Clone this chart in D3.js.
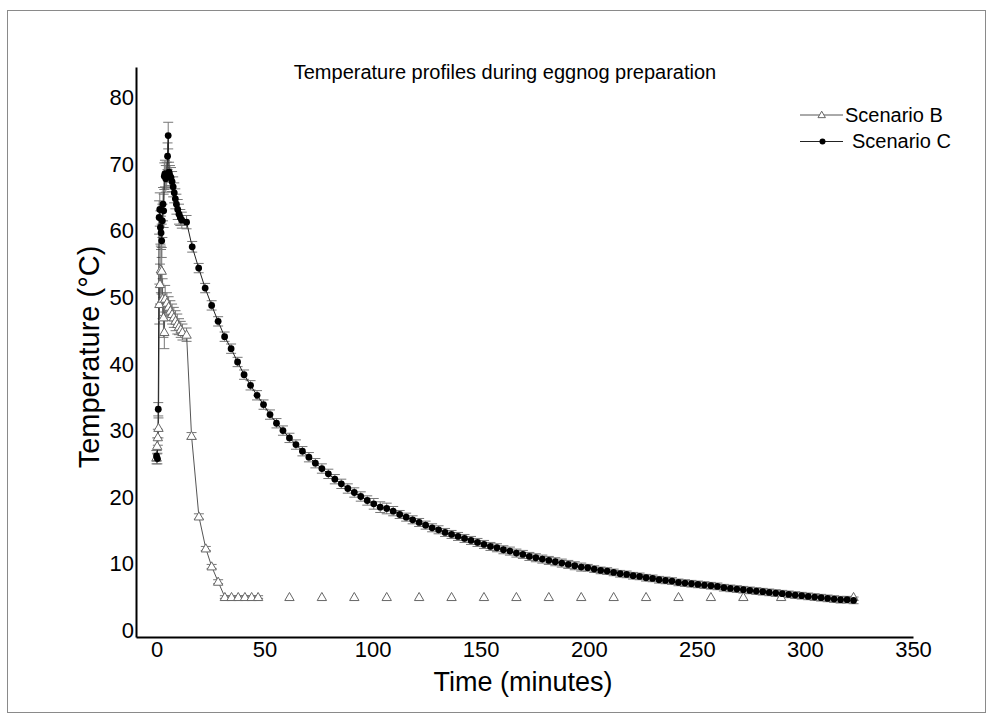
<!DOCTYPE html>
<html>
<head>
<meta charset="utf-8">
<script src="https://cdn.jsdelivr.net/npm/d3@7"></script>
<style>
body{margin:0;background:#fff;}
svg text{font-family:"Liberation Sans",Arial,sans-serif;fill:#000;}
</style>
</head>
<body>
<svg width="993" height="720"></svg>
<script>
// time points (minutes) and temperatures
var timeB = [0.0,0.3,0.6,0.9,1.3,1.6,2.0,2.4,2.8,3.2,3.6,4.0,4.8,5.6,6.4,7.2,8.0,8.8,9.6,10.4,11.2,12.0,13.9,
	16.2,19.6,22.8,25.5,28.5,31.6,34.7,37.8,40.9,44.0,47.0,
	61.5,76.5,91.5,106.5,121.5,136.5,151.5,166.5,181.5,196.5,211.5,226.5,241.5,256.5,271.5,289.0,322.5];
var tempB = [26.0,27.7,29.0,30.4,49.0,52.0,54.2,54.0,49.8,47.0,44.8,49.8,49.2,48.6,48.0,47.5,47.0,46.5,46.0,45.6,45.2,44.8,44.4,
	29.2,17.1,12.3,9.6,7.3,5.0,5.0,5.0,5.0,5.0,5.0,
	5.0,5.0,5.0,5.0,5.0,5.0,5.0,5.0,5.0,5.0,5.0,5.0,5.0,5.0,5.0,5.0,5.0];
var errB = [1.0,1.2,1.2,1.5,3.0,3.0,3.5,3.5,3.0,3.0,2.5,2.0,1.5,1.5,1.5,1.5,1.5,1.5,1.5,1.2,1.2,1.2,1.0,
	0.5,0.4,0.3,0.3,0.3,0.2,0.2,0.2,0.2,0.2,0.2,
	0.1,0.1,0.1,0.1,0.1,0.1,0.1,0.1,0.1,0.1,0.1,0.1,0.1,0.1,0.1,0.1,0.1];
var lineEndB = 47; // the connecting line stops after the last closely spaced reading

var timeC = [0.0,0.4,0.8,1.2,1.5,1.8,2.1,2.4,2.7,3.0,3.3,3.6,3.9,4.3,4.7,5.1,5.4,5.8,6.2,6.7,7.2,7.7,8.2,8.7,9.2,9.8,10.4,11.0,11.7,13.9,16.5,
	19.5,22.5,25.5,28.5,31.5,34.5,37.5,40.5,43.5,46.5,49.5,52.5,55.5,58.5,61.5,64.5,67.5,70.5,73.5,76.5,
	79.5,82.5,85.5,88.5,91.5,94.5,97.5,100.5,103.5,106.5,109.5,112.5,115.5,118.5,121.5,124.5,127.5,130.5,133.5,136.5,
	139.5,142.5,145.5,148.5,151.5,154.5,157.5,160.5,163.5,166.5,169.5,172.5,175.5,178.5,181.5,184.5,187.5,190.5,193.5,196.5,
	199.5,202.5,205.5,208.5,211.5,214.5,217.5,220.5,223.5,226.5,229.5,232.5,235.5,238.5,241.5,244.5,247.5,250.5,253.5,256.5,
	259.5,262.5,265.5,268.5,271.5,274.5,277.5,280.5,283.5,286.5,289.5,292.5,295.5,298.5,301.5,304.5,307.5,310.5,313.5,316.5,319.5,322.5];
var tempC = [26.2,25.8,33.2,62.0,63.2,60.5,59.7,58.5,61.5,64.0,63.0,68.2,68.6,67.8,68.3,71.2,74.3,68.8,68.3,68.0,67.4,66.6,65.7,64.8,64.0,63.2,62.5,62.0,61.6,61.3,57.6,
	54.4,51.4,48.8,46.4,44.1,42.3,40.3,38.4,36.8,35.3,33.9,32.4,31.1,30.0,28.9,27.9,26.9,26.0,25.1,24.3,
	23.5,22.7,22.0,21.3,20.7,20.1,19.5,19.0,18.5,18.3,17.9,17.4,17.0,16.6,16.2,15.8,15.4,15.1,14.7,14.4,
	14.1,13.8,13.5,13.2,12.9,12.6,12.4,12.1,11.9,11.6,11.4,11.1,10.9,10.7,10.5,10.3,10.1,9.9,9.7,9.5,
	9.4,9.2,9.0,8.9,8.7,8.5,8.4,8.2,8.1,7.9,7.8,7.6,7.5,7.4,7.2,7.1,7.0,6.9,6.8,6.7,
	6.6,6.4,6.3,6.2,6.1,6.0,5.9,5.8,5.7,5.6,5.5,5.4,5.3,5.2,5.1,5.0,4.9,4.8,4.7,4.6,4.6,4.5];
var errC = [0.8,0.8,1.0,2.5,2.5,2.5,2.5,2.5,2.5,2.5,2.5,2.0,2.0,2.0,2.0,2.0,2.0,1.5,1.5,1.5,1.5,1.5,1.5,1.5,1.5,1.5,1.5,1.2,1.2,1.0,0.8,
	0.7,0.7,0.7,0.7,0.7,0.7,0.7,0.7,0.7,0.7,0.7,0.7,0.7,0.7,0.7,0.7,0.7,0.7,0.7,0.7,
	0.7,0.7,0.7,0.7,0.7,0.7,0.7,0.8,0.8,0.8,0.7,0.6,0.6,0.6,0.6,0.6,0.6,0.6,0.6,0.6,
	0.6,0.6,0.6,0.6,0.6,0.6,0.6,0.6,0.6,0.6,0.6,0.6,0.6,0.6,0.6,0.6,0.6,0.6,0.6,0.6,
	0.5,0.5,0.5,0.5,0.5,0.5,0.5,0.5,0.5,0.5,0.5,0.5,0.5,0.5,0.5,0.5,0.5,0.5,0.5,0.5,
	0.5,0.5,0.5,0.5,0.5,0.5,0.5,0.5,0.5,0.5,0.5,0.5,0.5,0.5,0.5,0.5,0.5,0.5,0.5,0.5,0.5,0.5];

var xTicks = [0,50,100,150,200,250,300,350];
var yTicks = [0,10,20,30,40,50,60,70,80];
var seriesNames = ["Scenario B","Scenario C"];

var svg = d3.select("svg");

// frame round the whole picture
svg.append("rect").attr("x",7.5).attr("y",10.5).attr("width",978).attr("height",702)
	.attr("fill","none").attr("stroke","#8a8a8a").attr("stroke-width",1);

var x = d3.scaleLinear().domain([-9.5,350]).range([136,913]);
var y = d3.scaleLinear().domain([-1,84.6]).range([637,67]);

var dataB = timeB.map((t,i)=>({t:t,v:tempB[i],e:errB[i]}));
var dataC = timeC.map((t,i)=>({t:t,v:tempC[i],e:errC[i]}));

// axes, no tick marks
var xAxis = svg.append("g").attr("transform","translate(0,637)")
	.call(d3.axisBottom(x).tickValues(xTicks).tickSize(0).tickPadding(4).tickSizeOuter(0));
var yAxis = svg.append("g").attr("transform","translate(136,0)")
	.call(d3.axisLeft(y).tickValues(yTicks).tickSize(0).tickPadding(2).tickSizeOuter(0));
[xAxis,yAxis].forEach(function(a){
	a.select(".domain").attr("stroke","#000").attr("stroke-width",2);
	a.selectAll("text").attr("font-size",22).attr("font-family","Liberation Sans, Arial, sans-serif").attr("fill","#000");
});

var line = d3.line().x(d=>x(d.t)).y(d=>y(d.v));

// error bars
function errorBars(data, color, cap){
	var g = svg.append("g").attr("stroke",color).attr("stroke-width",1);
	g.selectAll("line.v").data(data).enter().append("line")
	.attr("x1",d=>x(d.t)).attr("x2",d=>x(d.t))
	.attr("y1",d=>y(d.v+d.e)).attr("y2",d=>y(d.v-d.e));
	g.selectAll("line.top").data(data).enter().append("line")
	.attr("x1",d=>x(d.t)-cap).attr("x2",d=>x(d.t)+cap)
	.attr("y1",d=>y(d.v+d.e)).attr("y2",d=>y(d.v+d.e));
	g.selectAll("line.bot").data(data).enter().append("line")
	.attr("x1",d=>x(d.t)-cap).attr("x2",d=>x(d.t)+cap)
	.attr("y1",d=>y(d.v-d.e)).attr("y2",d=>y(d.v-d.e));
}
errorBars(dataB.filter(d=>d.t<=lineEndB),"#777",5);
errorBars(dataC,"#777",5);

svg.append("path").datum(dataB.filter(d=>d.t<=lineEndB))
	.attr("d",line).attr("fill","none").attr("stroke","#555").attr("stroke-width",1);
svg.append("path").datum(dataC)
	.attr("d",line).attr("fill","none").attr("stroke","#222").attr("stroke-width",1);

var tri = d3.symbol().type(d3.symbolTriangle).size(38);

svg.append("g").selectAll("path").data(dataB).enter().append("path")
	.attr("d",tri)
	.attr("transform",d=>"translate("+x(d.t)+","+(y(d.v)+0.8)+")")
	.attr("fill","#fff").attr("stroke","#666").attr("stroke-width",1);

svg.append("g").selectAll("circle").data(dataC).enter().append("circle")
	.attr("cx",d=>x(d.t)).attr("cy",d=>y(d.v)).attr("r",3.4).attr("fill","#000");

// title
svg.append("text").attr("x",505).attr("y",79).attr("text-anchor","middle")
	.attr("font-size",20).text("Temperature profiles during eggnog preparation");

// axis titles
svg.append("text").attr("x",523).attr("y",691).attr("text-anchor","middle")
	.attr("font-size",27).text("Time (minutes)");
svg.append("text").attr("transform","translate(99,357) rotate(-90)").attr("text-anchor","middle")
	.attr("font-size",29).text("Temperature (°C)");

// legend
var leg = svg.append("g");
leg.append("line").attr("x1",800).attr("x2",843).attr("y1",115).attr("y2",115).attr("stroke","#555");
leg.append("path").attr("d",d3.symbol().type(d3.symbolTriangle).size(24)).attr("transform","translate(821.7,115.5)")
	.attr("fill","#fff").attr("stroke","#666");
leg.append("text").attr("x",845).attr("y",122).attr("font-size",20).text(seriesNames[0]);
leg.append("line").attr("x1",800).attr("x2",843).attr("y1",141.5).attr("y2",141.5).attr("stroke","#222");
leg.append("circle").attr("cx",822.5).attr("cy",141.5).attr("r",3).attr("fill","#000");
leg.append("text").attr("x",852).attr("y",148).attr("font-size",20).text(seriesNames[1]);
</script>
</body>
</html>
